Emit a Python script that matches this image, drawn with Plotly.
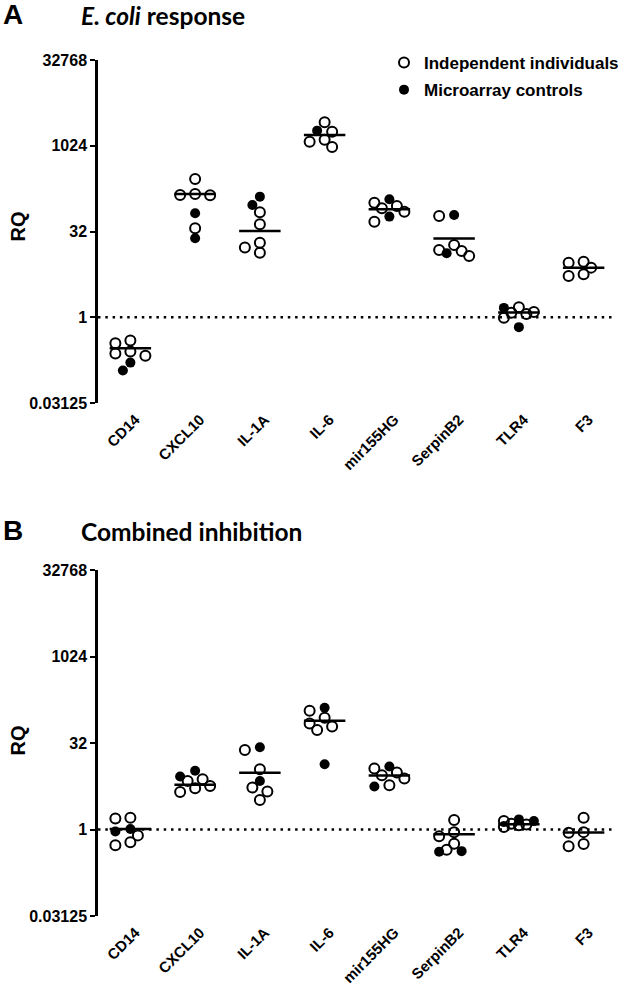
import math
import plotly.graph_objects as go

genes = ["CD14", "CXCL10", "IL-1A", "IL-6", "mir155HG", "SerpinB2", "TLR4", "F3"]

# Panel A - E. coli response (RQ)
ecoli_independent = [
    [0.39, 0.35, 0.25, 0.23, 0.21],
    [267, 140, 145, 138, 36.5],
    [69.6, 42.8, 20.4, 16.7, 13.6],
    [1809, 2646, 1300, 975, 1200],
    [102.6, 89.9, 82.0, 71.3, 47.6],
    [60.0, 18.6, 15.2, 14.6, 11.9],
    [1.14, 1.50, 1.20, 0.98, 1.24],
    [7.43, 9.45, 9.06, 5.31, 5.70],
]
ecoli_microarray = [
    [0.16, 0.116],
    [66.8, 24.4],
    [131, 93.6],
    [1885],
    [118, 58.4],
    [62.5, 13.3],
    [1.46, 0.67],
    [],
]

# Panel B - Combined inhibition (RQ)
combined_independent = [
    [1.56, 1.60, 0.79, 0.53, 0.60],
    [7.0, 5.73, 4.5, 7.5, 5.22],
    [24.1, 11.2, 5.37, 4.57, 3.26],
    [116, 88, 62, 70, 54],
    [11.5, 7.7, 9.8, 8.8, 5.9],
    [1.46, 0.896, 0.763, 0.567, 0.445],
    [1.26, 1.40, 1.10, 1.22, 1.19],
    [1.60, 0.90, 0.88, 0.51, 0.56],
]
combined_microarray = [
    [1.02, 0.92],
    [10.5, 8.36],
    [26.9, 7.0],
    [131, 13.7],
    [12.5, 5.6],
    [0.42, 0.41],
    [1.50, 1.40],
    [],
]

y_tick_vals = [0.03125, 1, 32, 1024, 32768]
y_tick_text = ["0.03125", "1", "32", "1024", "32768"]
legend_names = ["Independent individuals", "Microarray controls"]

W, H = 625, 1000
XDOM = [98 / W, 616 / W]
YDOM_A = [1 - 403 / H, 1 - 60 / H]
YDOM_B = [1 - 916 / H, 1 - 570 / H]
YMIN, YMAX = y_tick_vals[0], y_tick_vals[-1]
NCAT = len(genes)

FONT = "Liberation Sans, Arial, sans-serif"
TITLE_FONT = "Lato, Open Sans, sans-serif"


def swarm(values, px_per_log2, px_per_cat, step_px=7.5, min_dist=9.5, max_steps=2):
    order = sorted(range(len(values)), key=lambda i: -values[i])
    placed = []
    offs = [0.0] * len(values)
    cands = [0] + [s * m for m in range(1, max_steps + 1) for s in (-1, 1)]
    for i in order:
        y = math.log2(values[i]) * px_per_log2
        best, best_d = 0, -1
        chosen = None
        for c in cands:
            dx = c * step_px
            d = min([math.hypot(dx - px, y - py) for px, py in placed] or [1e9])
            if d >= min_dist:
                chosen = dx
                break
            if d > best_d:
                best, best_d = dx, d
        if chosen is None:
            chosen = best
        placed.append((chosen, y))
        offs[i] = chosen / px_per_cat
    return offs


fig = go.Figure()


def add_panel(indep, micro, xa, ya, ydom, show_legend):
    px_per_log2 = (ydom[1] - ydom[0]) * H / (math.log2(YMAX) - math.log2(YMIN))
    px_per_cat = (XDOM[1] - XDOM[0]) * W / NCAT
    fig.add_trace(go.Scatter(
        x=[-0.5, NCAT - 0.5], y=[1, 1], mode="lines", xaxis=xa, yaxis=ya,
        line=dict(color="black", width=2.5, dash="2.5px,4.8px"),
        showlegend=False, hoverinfo="skip"))
    xo, yo, xf, yf = [], [], [], []
    mx, my = [], []
    for g in range(NCAT):
        vals = list(indep[g]) + list(micro[g])
        offs = swarm(vals, px_per_log2, px_per_cat)
        n_ind = len(indep[g])
        for k, v in enumerate(vals):
            if k < n_ind:
                xo.append(g + offs[k]); yo.append(v)
            else:
                xf.append(g + offs[k]); yf.append(v)
        mean = sum(indep[g]) / len(indep[g])
        mx += [g - 0.32, g + 0.32, None]
        my += [mean, mean, None]
    fig.add_trace(go.Scatter(
        x=mx, y=my, mode="lines", xaxis=xa, yaxis=ya,
        line=dict(color="black", width=2.5), showlegend=False, hoverinfo="skip"))
    fig.add_trace(go.Scatter(
        x=xo, y=yo, mode="markers", xaxis=xa, yaxis=ya, name=legend_names[0],
        legendgroup="g1", showlegend=show_legend,
        marker=dict(symbol="circle-open", size=10, color="black", line=dict(width=2))))
    fig.add_trace(go.Scatter(
        x=xf, y=yf, mode="markers", xaxis=xa, yaxis=ya, name=legend_names[1],
        legendgroup="g2", showlegend=show_legend,
        marker=dict(symbol="circle", size=10, color="black")))


add_panel(ecoli_independent, ecoli_microarray, "x", "y", YDOM_A, True)
add_panel(combined_independent, combined_microarray, "x2", "y2", YDOM_B, False)

xcommon = dict(
    domain=XDOM, range=[-0.5, NCAT - 0.5], tickmode="array",
    tickvals=list(range(NCAT)), ticktext=genes, tickangle=-45,
    showline=False, ticks="", showgrid=False, zeroline=False, automargin=False,
    ticklabelshift=5, ticklabelstandoff=4,
    tickfont=dict(family=FONT, size=15, color="black", weight="bold"))
ycommon = dict(
    type="log", range=[math.log10(YMIN), math.log10(YMAX)], tickmode="array",
    tickvals=y_tick_vals, ticktext=y_tick_text, showline=True, linewidth=2.5,
    linecolor="black", ticks="outside", ticklen=5, tickwidth=2, tickcolor="black",
    showgrid=False, zeroline=False, automargin=False,
    tickfont=dict(family=FONT, size=16, color="black", weight="bold"))

annotations = []
for letter, title, ly, ty, rq_y in [
        ("A", "<i>E. coli</i> response", 14, 15, 227),
        ("B", "Combined inhibition", 530, 531, 741)]:
    annotations.append(dict(
        text=letter, x=1 / W, y=1 - ly / H, xref="paper", yref="paper",
        xanchor="left", yanchor="middle", showarrow=False,
        font=dict(family=FONT, size=28, color="black", weight="bold")))
    annotations.append(dict(
        text=title, x=79 / W, y=1 - ty / H, xref="paper", yref="paper",
        xanchor="left", yanchor="middle", showarrow=False,
        font=dict(family=TITLE_FONT, size=24.5, color="black", weight="bold")))
    annotations.append(dict(
        text="RQ", x=17.5 / W, y=1 - rq_y / H, xref="paper", yref="paper",
        xanchor="center", yanchor="middle", textangle=-90, showarrow=False,
        font=dict(family=FONT, size=20, color="black", weight="bold")))

fig.update_layout(
    width=W, height=H, margin=dict(l=0, r=0, t=0, b=0, autoexpand=False),
    paper_bgcolor="white", plot_bgcolor="white",
    xaxis=dict(**xcommon, anchor="y"),
    yaxis=dict(**ycommon, domain=YDOM_A, anchor="x"),
    xaxis2=dict(**xcommon, anchor="y2"),
    yaxis2=dict(**ycommon, domain=YDOM_B, anchor="x2"),
    showlegend=True,
    legend=dict(x=384 / W, y=1 - 45 / H, xanchor="left", yanchor="top",
                traceorder="grouped", tracegroupgap=2, bgcolor="rgba(0,0,0,0)",
                font=dict(family=FONT, size=17, color="black", weight="bold")),
    annotations=annotations,
)

fig.write_html("out.html", config={"displayModeBar": False},
               post_script="document.body.style.margin='0';")
